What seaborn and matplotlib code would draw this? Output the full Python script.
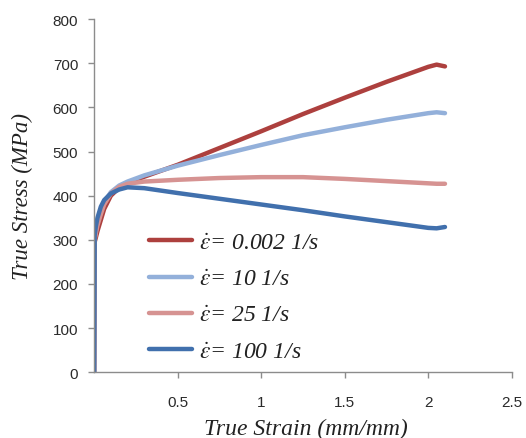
import matplotlib
matplotlib.use("Agg")
import matplotlib.pyplot as plt
import seaborn as sns
import pandas as pd
from matplotlib.lines import Line2D

strain = [0.0, 0.003, 0.01, 0.02, 0.04, 0.06, 0.1, 0.15, 0.2, 0.3, 0.5,
          0.75, 1.0, 1.25, 1.5, 1.75, 2.0, 2.05, 2.1]
stress_0002 = [0, 295, 305, 320, 345, 370, 400, 418, 428, 443, 470,
               508, 546, 585, 622, 658, 692, 697, 693]
stress_10 = [0, 305, 320, 340, 365, 385, 408, 423, 432, 446, 468,
             492, 515, 537, 555, 572, 587, 589, 587]
stress_25 = [0, 300, 315, 333, 358, 380, 405, 420, 427, 432, 436,
             440, 442, 442, 438, 433, 428, 427, 427]
stress_100 = [0, 310, 330, 350, 375, 390, 405, 414, 419, 417, 406,
              393, 380, 367, 353, 340, 327, 326, 329]

labels = ["0.002 1/s", "10 1/s", "25 1/s", "100 1/s"]
series = [stress_0002, stress_10, stress_25, stress_100]
colors = ["#AD403E", "#93B0DA", "#D69392", "#4170AD"]

x_ticks = [0.5, 1, 1.5, 2, 2.5]
x_tick_labels = ["0.5", "1", "1.5", "2", "2.5"]
y_ticks = [0, 100, 200, 300, 400, 500, 600, 700, 800]

rows = []
for lab, vals in zip(labels, series):
    for s, v in zip(strain, vals):
        rows.append({"strain": s, "stress": v, "rate": lab})
df = pd.DataFrame(rows)

sns.set_style("ticks")
plt.rcParams["mathtext.fontset"] = "stix"

fig = plt.figure(figsize=(5.26, 4.39), dpi=100)
ax = fig.add_axes([0.179, 0.150, 0.794, 0.804])

sns.lineplot(data=df, x="strain", y="stress", hue="rate", hue_order=labels,
             palette=colors, sort=False, estimator=None, linewidth=3.2,
             ax=ax, legend=False)

ax.set_xlim(0, 2.5)
ax.set_ylim(0, 800)
ax.set_xticks(x_ticks)
ax.set_xticklabels(x_tick_labels)
ax.set_yticks(y_ticks)
for sp in ["top", "right"]:
    ax.spines[sp].set_visible(False)
for sp in ["left", "bottom"]:
    ax.spines[sp].set_color("#8C8C8C")
    ax.spines[sp].set_linewidth(1.0)
ax.tick_params(axis="both", colors="#8C8C8C", length=4.5, width=1,
               labelcolor="#2A2A2A", labelsize=11)
ax.tick_params(axis="y", pad=7)
ax.tick_params(axis="x", pad=12)
for t in ax.get_xticklabels() + ax.get_yticklabels():
    t.set_family("Liberation Sans")

ax.set_xlabel("True Strain (mm/mm)", family="Liberation Serif", style="italic",
              fontsize=17, color="#222222")
ax.set_ylabel("True Stress (MPa)", family="Liberation Serif", style="italic",
              fontsize=16.5, color="#222222")
ax.xaxis.label.set_va("center")
ax.yaxis.label.set_va("center")
ax.xaxis.set_label_coords(0.507, -0.160)
ax.yaxis.set_label_coords(-0.172, 0.50)

handles = [Line2D([0], [0], color=c, lw=3.2) for c in colors]
leg_labels = [r"$\dot{\varepsilon}$= " + l for l in labels]
leg = ax.legend(handles, leg_labels, loc="upper left",
                bbox_to_anchor=(0.132, 0.397), frameon=False,
                borderaxespad=0, borderpad=0,
                prop={"family": "Liberation Serif", "style": "italic", "size": 17},
                handlelength=1.8, handletextpad=0.3, labelspacing=0.63)
for t in leg.get_texts():
    t.set_color("#222222")

fig.savefig("out.png", dpi=100)
